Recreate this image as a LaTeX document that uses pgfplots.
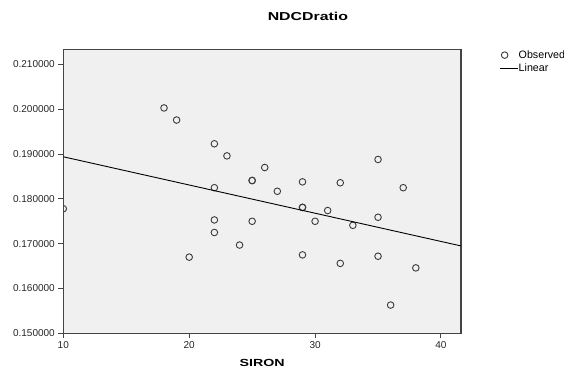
\documentclass[border=0pt]{standalone}
\usepackage{pgfplots}
\pgfplotsset{compat=1.18}
\usepackage{fontspec}
\setmainfont{Liberation Sans}
\newfontfamily\widebold[FakeStretch=1.38]{Liberation Sans Bold}
\definecolor{bg}{HTML}{F0F0F0}
\definecolor{frame}{HTML}{444444}
\definecolor{mk}{HTML}{3A3A3A}
\pgfplotsset{
  obslegend/.style={legend image code/.code={\path[draw=none] (0pt,0pt) -- (18pt,0pt); \draw[mk] plot[only marks, mark=o, mark size=3.3pt, mark options={draw=mk, line width=0.9pt}] coordinates {(5pt,0pt)};}},
  linlegend/.style={legend image code/.code={\draw[##1] (0pt,0pt) -- (18pt,0pt);}},
}
\begin{document}
\begin{tikzpicture}
\begin{axis}[
  scale only axis, width=397.7pt, height=283.6pt,
  at={(0pt,0pt)}, anchor=south west,
  xmin=10, xmax=41.59, ymin=0.150, ymax=0.2133,
  axis background/.style={fill=bg},
  axis line style={frame, line width=1.3pt},
  tick pos=left, tick align=outside, major tick length=5pt,
  tick style={frame, line width=1pt},
  xtick={10,20,30,40},
  ytick={0.15,0.16,0.17,0.18,0.19,0.20,0.21},
  scaled y ticks=false,
  yticklabel style={/pgf/number format/.cd, fixed, fixed zerofill, precision=6},
  /pgf/number format/assume math mode=true,
  ticklabel style={font=\fontsize{10}{11}\selectfont, color=black!85},
  xlabel={SIRON},
  xlabel style={at={(axis description cs:0.5,0)}, anchor=center, yshift=-29.7pt, font=\widebold\fontsize{10.3}{12}\selectfont},
  title={NDCDratio},
  title style={at={(axis description cs:0.615,1)}, anchor=center, yshift=27.7pt, font=\widebold\fontsize{11.5}{13}\selectfont},
  clip marker paths=true,
  legend style={at={(axis description cs:1,1)}, anchor=north west, xshift=38pt, yshift=0pt,
    draw=none, fill=none, inner sep=0pt, row sep=3pt,
    font=\fontsize{10.7}{12}\selectfont,
    nodes={inner sep=0.6pt, anchor=west}},
  legend cell align=left,
]
\addplot[only marks, mark=o, mark size=3.3pt, mark options={draw=mk, line width=0.9pt}, obslegend]
coordinates {
(10,0.1778) (18,0.2003) (19,0.1976) (22,0.1923) (23,0.1896) (26,0.1870)
(25,0.1841) (25,0.1841) (22,0.1825) (27,0.1817) (29,0.1838) (32,0.1836)
(35,0.1888) (37,0.1825) (29,0.1781) (29,0.1781) (31,0.1774) (30,0.1750)
(33,0.1741) (35,0.1759) (22,0.1753) (25,0.1750) (22,0.1725) (24,0.1697)
(20,0.1670) (29,0.1675) (32,0.1656) (35,0.1672) (38,0.1646) (36,0.1563)
};
\addlegendentry{Observed}
\addplot[black, line width=0.9pt, linlegend]
coordinates {(10,0.1894) (41.59,0.1695)};
\addlegendentry{Linear}
\end{axis}
\pgfresetboundingbox
\path[use as bounding box] (-63.3pt,-37.7pt) rectangle (500.7pt,333.3pt);
\end{tikzpicture}
\end{document}
